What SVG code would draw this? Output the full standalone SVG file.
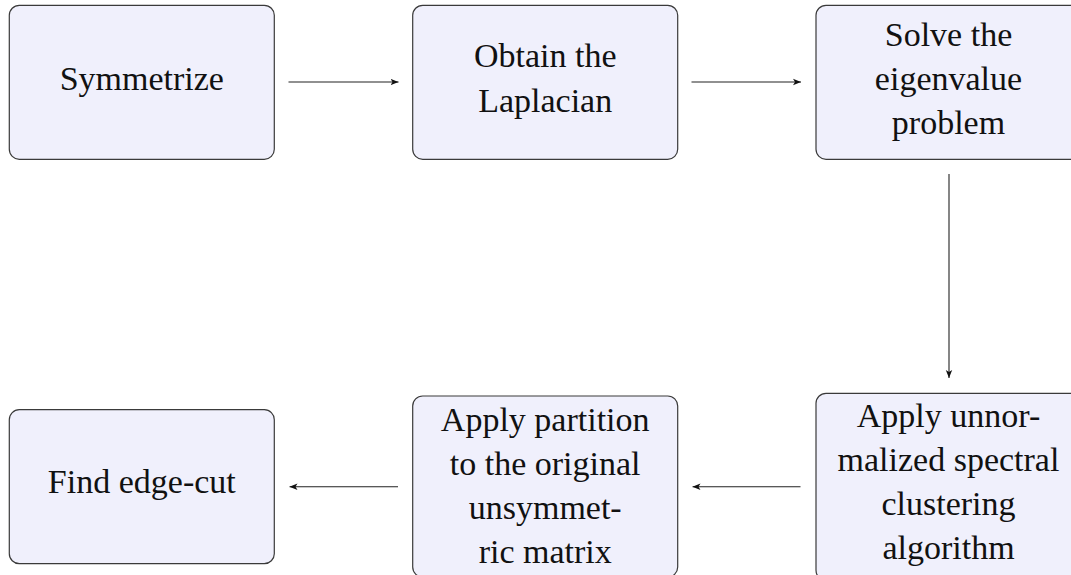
<svg xmlns="http://www.w3.org/2000/svg" width="1071" height="575" viewBox="0 0 1071 575">
<style>
.box{fill:#f0f0fc;stroke:#3a3a3a;stroke-width:1.2}
.c{stroke:#222;stroke-width:1.1;fill:none;marker-end:url(#ah)}
</style>
<defs>
<marker id="ah" viewBox="0 0 10 10" refX="10" refY="5" markerWidth="8" markerHeight="8" markerUnits="userSpaceOnUse" orient="auto">
<path d="M0,1 L10,5 L0,9 L2.5,5 Z" fill="#111"/>
</marker>
</defs>
<rect width="1071" height="575" fill="#fff"/>
<g id="connectors">
<line class="c" x1="288.5" y1="82" x2="398.5" y2="82"/>
<line class="c" x1="691.5" y1="82" x2="801" y2="82"/>
<line class="c" x1="949" y1="174" x2="949" y2="378"/>
<line class="c" x1="800.5" y1="486.7" x2="692.5" y2="486.7"/>
<line class="c" x1="398" y1="486.7" x2="289.5" y2="486.7"/>
</g>
<g font-family="Liberation Serif, DejaVu Serif, serif" font-size="34" fill="#111" text-anchor="middle">
<g id="n1">
<rect class="box" x="9.3" y="5.3" width="265" height="154" rx="10"/>
<text x="141.8" y="90">Symmetrize</text>
</g>
<g id="n2">
<rect class="box" x="412.7" y="5.3" width="265" height="154" rx="10"/>
<text x="545.2" y="67.3">Obtain the</text>
<text x="545.2" y="111.7">Laplacian</text>
</g>
<g id="n3">
<rect class="box" x="816" y="5.3" width="265" height="154" rx="10"/>
<text x="948.5" y="45.7">Solve the</text>
<text x="948.5" y="90">eigenvalue</text>
<text x="948.5" y="133.5">problem</text>
</g>
<g id="n4">
<rect class="box" x="816" y="393.3" width="265" height="187" rx="10"/>
<text x="948.5" y="426.7">Apply unnor-</text>
<text x="948.5" y="471">malized spectral</text>
<text x="948.5" y="515">clustering</text>
<text x="948.5" y="559">algorithm</text>
</g>
<g id="n5">
<rect class="box" x="412.7" y="396" width="265" height="181" rx="10"/>
<text x="545.2" y="430.7">Apply partition</text>
<text x="545.2" y="475">to the original</text>
<text x="545.2" y="518.5">unsymmet-</text>
<text x="545.2" y="563">ric matrix</text>
</g>
<g id="n6">
<rect class="box" x="9.3" y="409.7" width="265" height="154" rx="10"/>
<text x="141.8" y="493.3">Find edge-cut</text>
</g>
</g>
</svg>
